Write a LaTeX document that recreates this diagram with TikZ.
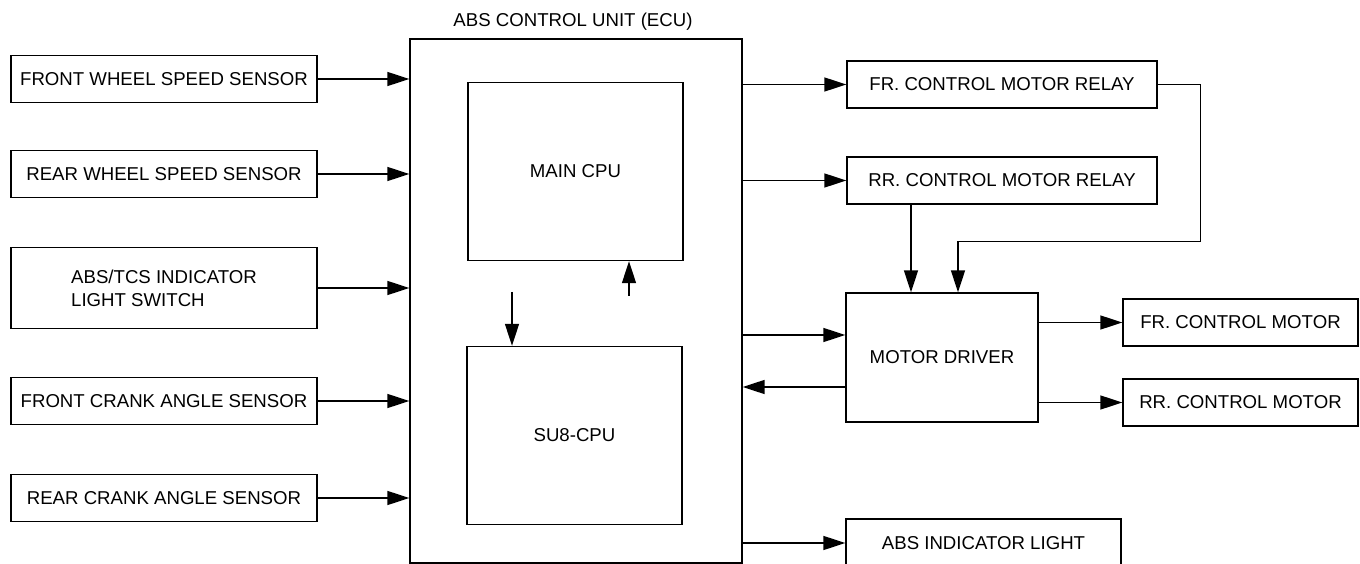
\documentclass[tikz,border=0pt]{standalone}
\usepackage{fontspec}
\setmainfont{Liberation Sans}
\usetikzlibrary{arrows.meta, positioning, calc}

\begin{document}
\begin{tikzpicture}[
    x=0.02cm, y=-0.02cm,
    box/.style={draw, line width=0.8pt, minimum height=0.94cm, align=center, inner sep=0pt, font=\fontsize{10.6}{13}\selectfont},
    sensor/.style={box, minimum width=6.12cm},
    relay/.style={box, minimum width=6.2cm},
    motor/.style={box, minimum width=4.7cm},
    cpu/.style={box, minimum width=4.3cm, minimum height=3.56cm},
    arr/.style={-{Triangle[length=4.4mm, width=2.8mm]}, line width=0.8pt}
]
\useasboundingbox (0,0) rectangle (1360,564);

% Control unit
\node[box, minimum width=6.64cm, minimum height=10.48cm] (ecu) at (576,301) {};
\node[font=\fontsize{10.6}{13}\selectfont] (title) at (573,22) {ABS CONTROL UNIT (ECU)};
\node[cpu] (main) at (575.5,171.5) {MAIN CPU};
\node[cpu] (sub) at (574.5,435.5) {SU8-CPU};

% Inputs
\node[sensor] (fws) at (164,79) {FRONT WHEEL SPEED SENSOR};
\node[sensor] (rws) at (164,174) {REAR WHEEL SPEED SENSOR};
\node[sensor, minimum height=1.62cm, align=left] (sw) at (164,288) {ABS/TCS INDICATOR\\LIGHT SWITCH};
\node[sensor] (fcs) at (164,401) {FRONT CRANK ANGLE SENSOR};
\node[sensor] (rcs) at (164,498) {REAR CRANK ANGLE SENSOR};

% Outputs
\node[relay] (frr) at (1002,84.5) {FR. CONTROL MOTOR RELAY};
\node[relay] (rrr) at (1002,180.5) {RR. CONTROL MOTOR RELAY};
\node[box, minimum width=3.84cm, minimum height=2.58cm] (md) at (942,357.5) {MOTOR DRIVER};
\node[motor] (frm) at (1240.5,322.5) {FR. CONTROL MOTOR};
\node[motor] (rrm) at (1240.5,402.5) {RR. CONTROL MOTOR};
\node[box, minimum width=5.5cm, minimum height=0.96cm] (light) at (983.5,543) {ABS INDICATOR LIGHT};

% Input arrows
\foreach \s in {fws, rws, sw, fcs, rcs}
    \draw[arr] (\s.east) -- (\s.east -| ecu.west);

% CPU link
\coordinate (dn) at (512,292);
\coordinate (up) at (629,296);
\draw[arr] (dn) -- (dn |- sub.north);
\draw[arr] (up) -- (up |- main.south);

% Output arrows
\coordinate (mdin) at ($(md.west)+(0,-22.5)$);
\coordinate (mdout) at ($(md.west)+(0,29.5)$);
\draw[arr] (ecu.east |- frr) -- (frr.west);
\draw[arr] (ecu.east |- rrr) -- (rrr.west);
\draw[arr] (mdin -| ecu.east) -- (mdin);
\draw[arr] (mdout) -- (mdout -| ecu.east);
\draw[arr] (ecu.east |- light) -- (light.west);

% Relays to driver
\coordinate (rrin) at ($(md.north)+(-31,0)$);
\coordinate (frin) at ($(md.north)+(16,0)$);
\draw[arr] (rrin |- rrr.south) -- (rrin);
\draw[arr] (frr.east) -- ++(43,0) |- ($(frin)+(0,-51)$) -- (frin);

% Driver to motors
\draw[arr] (md.east |- frm) -- (frm.west);
\draw[arr] (md.east |- rrm) -- (rrm.west);

\end{tikzpicture}
\end{document}
